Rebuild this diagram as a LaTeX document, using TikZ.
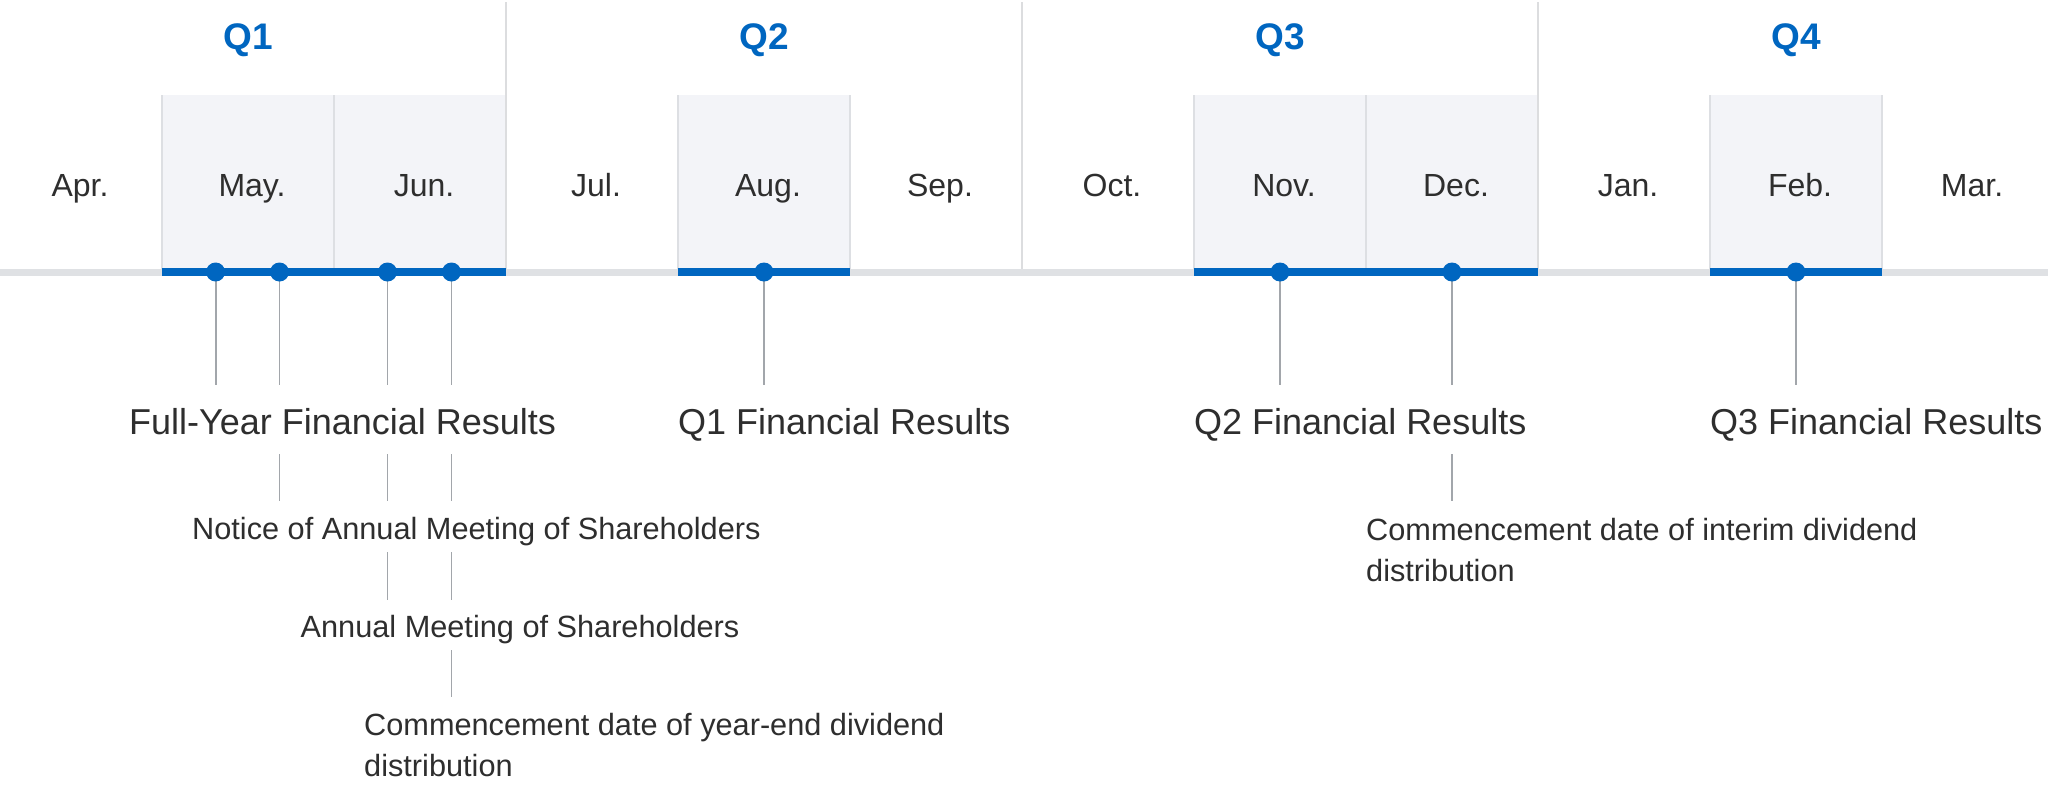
\documentclass[tikz,border=0pt]{standalone}
\usepackage{fontspec}
\setmainfont{Liberation Sans}
\definecolor{qblue}{HTML}{0066C0}
\definecolor{tlgray}{HTML}{DFE1E4}
\definecolor{shadefill}{HTML}{F3F4F8}
\definecolor{shadeline}{HTML}{DDDFE3}
\definecolor{divgray}{HTML}{DCDDDF}
\definecolor{stemgray}{HTML}{A2A6AB}
\definecolor{txt}{HTML}{2E2E2E}
\begin{document}
\begin{tikzpicture}[x=1pt,y=-1pt,
  month/.style={font=\fontsize{32}{38}\selectfont, text=txt, anchor=base, inner sep=0},
  qlab/.style={font=\fontsize{37}{44}\selectfont\bfseries, text=qblue, anchor=base, inner sep=0},
  big/.style={font=\fontsize{36}{43}\selectfont, text=txt, anchor=base west, inner sep=0},
  small/.style={font=\fontsize{30.7}{41.5}\selectfont, text=txt, anchor=base west, inner sep=0, align=left},
  stem/.style={draw=stemgray, line width=1.8},
  dot/.style={circle, fill=qblue, minimum size=19, inner sep=0},
  colline/.style={draw=shadeline, line width=1.5},
  divider/.style={draw=divgray, line width=2},
  tlbase/.style={draw=tlgray, line width=7},
  tlblue/.style={draw=qblue, line width=8}]
\useasboundingbox (0,0) rectangle (2048,790);
\fill[white] (0,0) rectangle (2048,790);
% shaded month columns (column i spans -10+172i .. -10+172(i+1))
\foreach \c in {1,2,4,7,8,10} {
  \fill[shadefill] ({-10+\c*172},95) rectangle ({-10+(\c+1)*172},272);
  \draw[colline] ({-10+\c*172},95) -- ({-10+\c*172},272);
  \draw[colline] ({-10+(\c+1)*172},95) -- ({-10+(\c+1)*172},272);
}
% quarter dividers
\foreach \q in {1,2,3} \draw[divider] ({-10+\q*516},2) -- ({-10+\q*516},272);
% timeline
\draw[tlbase] (0,272) -- (2048,272);
\draw[tlblue] (162,272) -- (506,272);
\draw[tlblue] (678,272) -- (850,272);
\draw[tlblue] (1194,272) -- (1538,272);
\draw[tlblue] (1710,272) -- (1882,272);
% quarter labels
\node[qlab] (q1) at (248,49.5) {Q1};
\node[qlab] (q2) at (764,49.5) {Q2};
\node[qlab] (q3) at (1280,49.5) {Q3};
\node[qlab] (q4) at (1796,49.5) {Q4};
% months
\foreach \m [count=\i from 0] in {Apr.,May.,Jun.,Jul.,Aug.,Sep.,Oct.,Nov.,Dec.,Jan.,Feb.,Mar.}
  \node[month] (m\i) at ({80+\i*172},196) {\m};
% level coordinates
\coordinate (l1) at (0,385);
\coordinate (l2a) at (0,454);
\coordinate (l2b) at (0,501);
\coordinate (l3a) at (0,552);
\coordinate (l3b) at (0,600);
\coordinate (l4a) at (0,650);
\coordinate (l4b) at (0,697);
% dot positions
\coordinate (p1) at (215.6,272);
\coordinate (p2) at (279.5,272);
\coordinate (p3) at (387.5,272);
\coordinate (p4) at (451.5,272);
\coordinate (p5) at (764,272);
\coordinate (p6) at (1280,272);
\coordinate (p7) at (1452,272);
\coordinate (p8) at (1796,272);
% stems
\foreach \k in {1,...,8} \draw[stem] (p\k) -- (p\k |- l1);
\foreach \k in {2,3,4,7} \draw[stem] (p\k |- l2a) -- (p\k |- l2b);
\foreach \k in {3,4} \draw[stem] (p\k |- l3a) -- (p\k |- l3b);
\draw[stem] (p4 |- l4a) -- (p4 |- l4b);
% dots
\foreach \k in {1,...,8} \node[dot] (d\k) at (p\k) {};
% labels
\node[big] (fy) at (129,434) {Full-Year Financial Results};
\node[big] (r1) at (678,434) {Q1 Financial Results};
\node[big] (r2) at (1194,434) {Q2 Financial Results};
\node[big] (r3) at (1710,434) {Q3 Financial Results};
\node[small] (nt) at (192,539.5) {Notice of Annual Meeting of Shareholders};
\node[small] (am) at (300.5,637) {Annual Meeting of Shareholders};
\node[small] (cy) at (364,776.5) {Commencement date of year-end dividend\\distribution};
\node[small] (ci) at (1366,581.5) {Commencement date of interim dividend\\distribution};
\end{tikzpicture}
\end{document}
